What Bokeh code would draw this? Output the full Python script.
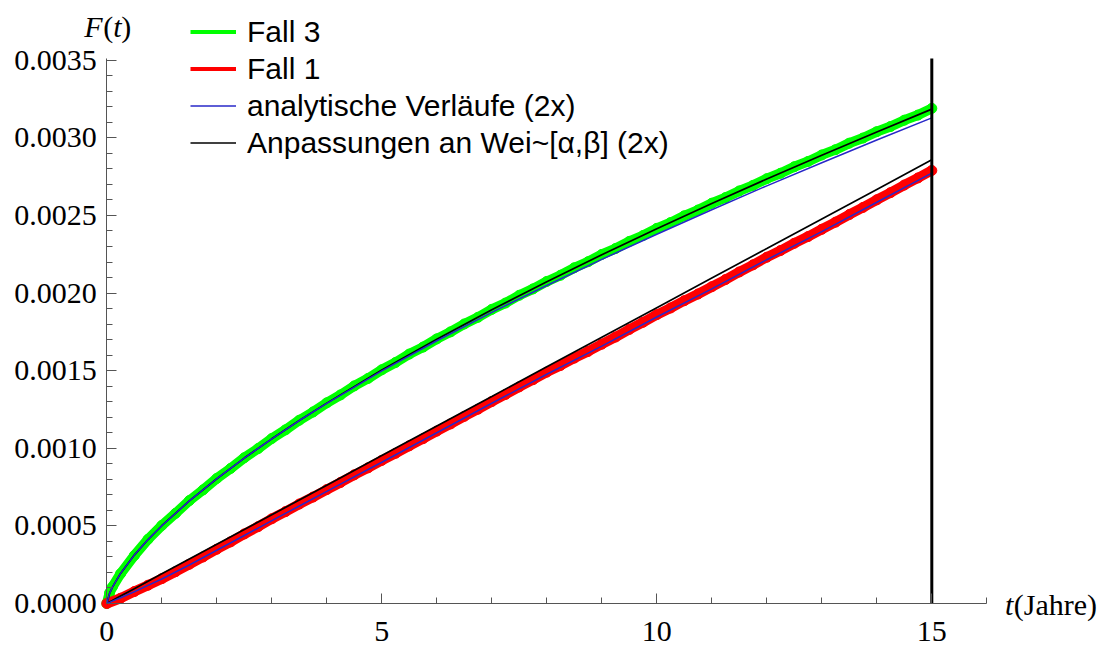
from bokeh.plotting import figure
from bokeh.models import (FixedTicker, NumeralTickFormatter, Label, Legend,
                          LegendItem, Range1d, LinearAxis)
from bokeh.embed import file_html
from bokeh.resources import INLINE

# --- simulated failure probability F(t), case 3 (green markers) ---
t_fall3 = [0.0, 0.05, 0.1, 0.25, 0.5, 0.75, 1.0, 1.25, 1.5, 1.75, 2.0, 2.25, 2.5,
           2.75, 3.0, 3.25, 3.5, 3.75, 4.0, 4.25, 4.5, 4.75, 5.0, 5.25, 5.5, 5.75,
           6.0, 6.25, 6.5, 6.75, 7.0, 7.25, 7.5, 7.75, 8.0, 8.25, 8.5, 8.75, 9.0,
           9.25, 9.5, 9.75, 10.0, 10.25, 10.5, 10.75, 11.0, 11.25, 11.5, 11.75,
           12.0, 12.25, 12.5, 12.75, 13.0, 13.25, 13.5, 13.75, 14.0, 14.25, 14.5,
           14.75, 15.0]
F_fall3 = [0.0, 0.000068, 0.000106, 0.000192, 0.000309, 0.000414, 0.000503,
           0.000581, 0.000663, 0.000732, 0.000806, 0.000870, 0.000939, 0.000998,
           0.001063, 0.001119, 0.001181, 0.001234, 0.001293, 0.001344, 0.001402,
           0.001450, 0.001506, 0.001553, 0.001607, 0.001652, 0.001705, 0.001750,
           0.001801, 0.001844, 0.001895, 0.001936, 0.001986, 0.002027, 0.002075,
           0.002115, 0.002163, 0.002202, 0.002249, 0.002287, 0.002333, 0.002371,
           0.002417, 0.002454, 0.002498, 0.002535, 0.002579, 0.002615, 0.002658,
           0.002694, 0.002737, 0.002772, 0.002814, 0.002848, 0.002890, 0.002924,
           0.002966, 0.002999, 0.003040, 0.003073, 0.003114, 0.003147, 0.003190]

# --- simulated failure probability F(t), case 1 (red markers) ---
t_fall1 = t_fall3[:1] + t_fall3[3:]
F_fall1 = [0.0, 0.000034, 0.000077, 0.000118, 0.000160, 0.000205, 0.000253,
           0.000300, 0.000350, 0.000397, 0.000448, 0.000495, 0.000546, 0.000592,
           0.000641, 0.000686, 0.000734, 0.000780, 0.000829, 0.000874, 0.000922,
           0.000968, 0.001016, 0.001062, 0.001111, 0.001157, 0.001206, 0.001252,
           0.001301, 0.001347, 0.001396, 0.001442, 0.001491, 0.001534, 0.001581,
           0.001624, 0.001671, 0.001717, 0.001766, 0.001812, 0.001861, 0.001904,
           0.001951, 0.001994, 0.002041, 0.002087, 0.002136, 0.002182, 0.002231,
           0.002274, 0.002321, 0.002364, 0.002411, 0.002457, 0.002506, 0.002552,
           0.002601, 0.002647, 0.002696, 0.002742, 0.002790]

# --- analytic curves and Weibull fits ---
t_curve = [0.0, 0.05, 0.1, 0.25, 0.5, 0.75, 1.0, 1.5, 2.0, 2.5, 3.0, 3.5, 4.0,
           5.0, 6.0, 7.0, 8.0, 9.0, 10.0, 11.0, 12.0, 13.0, 14.0, 15.0]
F_analytic3 = [0.0, 0.000065, 0.000104, 0.000194, 0.000312, 0.000412, 0.000501,
               0.000661, 0.000804, 0.000937, 0.001061, 0.001179, 0.001290,
               0.001499, 0.001693, 0.001876, 0.002049, 0.002217, 0.002379,
               0.002537, 0.002691, 0.002840, 0.002986, 0.003129]
F_fit3 = [0.0, 0.000065, 0.000104, 0.000194, 0.000312, 0.000412, 0.000501,
          0.000661, 0.000804, 0.000937, 0.001061, 0.001179, 0.001291, 0.001504,
          0.001703, 0.001893, 0.002073, 0.002247, 0.002415, 0.002577, 0.002735,
          0.002888, 0.003038, 0.003185]
F_analytic1 = [0.0, 0.000007, 0.000015, 0.000037, 0.000076, 0.000117, 0.000158,
               0.000248, 0.000343, 0.000438, 0.000534, 0.000628, 0.000722,
               0.000910, 0.001100, 0.001290, 0.001477, 0.001658, 0.001846,
               0.002027, 0.002215, 0.002396, 0.002585, 0.002773]
F_fit1 = [0.0, 0.000010, 0.000019, 0.000048, 0.000095, 0.000143, 0.000191,
          0.000286, 0.000381, 0.000477, 0.000572, 0.000667, 0.000762, 0.000953,
          0.001144, 0.001334, 0.001525, 0.001715, 0.001906, 0.002097, 0.002287,
          0.002478, 0.002668, 0.002859]

# observation horizon (years)
t_end = 15

x_major = [0, 5, 10, 15]
x_minor = list(range(0, 17))
y_major = [0.0, 0.0005, 0.0010, 0.0015, 0.0020, 0.0025, 0.0030, 0.0035]
y_minor = [i * 0.0001 for i in range(0, 36)]
x_axis_extent = (0, 16)
y_axis_extent = (0, 0.003512)

GREEN = "#00ff00"
RED = "#ff0000"
BLUE = "#2828c8"
AXIS = "#555555"
SERIF = "Liberation Serif"
SANS = "Liberation Sans"

# the frame spans the whole canvas; axes are pinned at t=0 / F=0
p = figure(width=1104, height=646,
           x_range=Range1d(-1.933, 18.14), y_range=Range1d(-0.000277, 0.003885),
           x_axis_location=None, y_axis_location=None,
           output_backend="svg", toolbar_location=None, min_border=0)
p.outline_line_color = None
p.grid.visible = False
p.background_fill_color = "white"
p.border_fill_color = "white"

xaxis = LinearAxis(fixed_location=0, bounds=x_axis_extent,
                   ticker=FixedTicker(ticks=x_major, minor_ticks=x_minor))
yaxis = LinearAxis(fixed_location=0, bounds=y_axis_extent,
                   ticker=FixedTicker(ticks=y_major, minor_ticks=y_minor),
                   formatter=NumeralTickFormatter(format="0.0000"))
for ax in (xaxis, yaxis):
    ax.axis_line_color = AXIS
    ax.major_tick_line_color = AXIS
    ax.minor_tick_line_color = AXIS
    ax.major_tick_in = 10
    ax.major_tick_out = 0
    ax.minor_tick_in = 6
    ax.minor_tick_out = 0
    ax.major_label_text_font = SERIF
    ax.major_label_text_font_size = "30px"
    ax.major_label_text_color = "black"
xaxis.major_label_standoff = 18
yaxis.major_label_standoff = 10
p.add_layout(xaxis, "below")
p.add_layout(yaxis, "left")

# legend swatches (hidden beneath the marker bands)
r_g = p.line(t_fall3, F_fall3, line_color=GREEN, line_width=4)
r_r = p.line(t_fall1, F_fall1, line_color=RED, line_width=4)

# simulated points
p.line(t_fall3, F_fall3, line_color=GREEN, line_width=10, line_join="round")
p.scatter(t_fall3, F_fall3, size=10, color=GREEN)
p.line(t_fall1, F_fall1, line_color=RED, line_width=10, line_join="round")
p.scatter(t_fall1, F_fall1, size=10, color=RED)

# Weibull fits and analytic curves
r_k = p.line(t_curve, F_fit3, line_color="black", line_width=1.7)
p.line(t_curve, F_fit1, line_color="black", line_width=1.7)
r_b = p.line(t_curve, F_analytic3, line_color=BLUE, line_width=1.5)
p.line(t_curve, F_analytic1, line_color=BLUE, line_width=1.5)

# end of observation period
p.segment(x0=[t_end], y0=[y_axis_extent[0]], x1=[t_end], y1=[y_axis_extent[1]],
          line_color="black", line_width=3)

legend = Legend(items=[LegendItem(label="Fall 3", renderers=[r_g]),
                       LegendItem(label="Fall 1", renderers=[r_r]),
                       LegendItem(label="analytische Verläufe (2x)", renderers=[r_b]),
                       LegendItem(label="Anpassungen an Wei~[α,β] (2x)", renderers=[r_k])],
                location=(190, 485), orientation="vertical")
legend.label_text_font = SANS
legend.label_text_font_size = "30px"
legend.label_text_color = "black"
legend.glyph_width = 46
legend.glyph_height = 37
legend.label_height = 37
legend.label_standoff = 11
legend.spacing = 0
legend.padding = 0
legend.margin = 0
legend.border_line_color = None
legend.background_fill_alpha = 0
p.add_layout(legend)

# axis titles
def add_text(x, y, txt, style="normal"):
    p.add_layout(Label(x=x, y=y, text=txt, text_font=SERIF,
                       text_font_size="30px", text_font_style=style,
                       text_baseline="middle", text_align="left",
                       text_color="black"))

add_text(-0.41, 0.003718, "F", "italic")
add_text(-0.065, 0.003718, "(")
add_text(0.115, 0.003718, "t", "italic")
add_text(0.262, 0.003718, ")")
add_text(16.33, -0.000005, "t", "italic")
add_text(16.49, -0.000005, "(Jahre)")

open("out.html", "w").write(file_html(p, INLINE))
